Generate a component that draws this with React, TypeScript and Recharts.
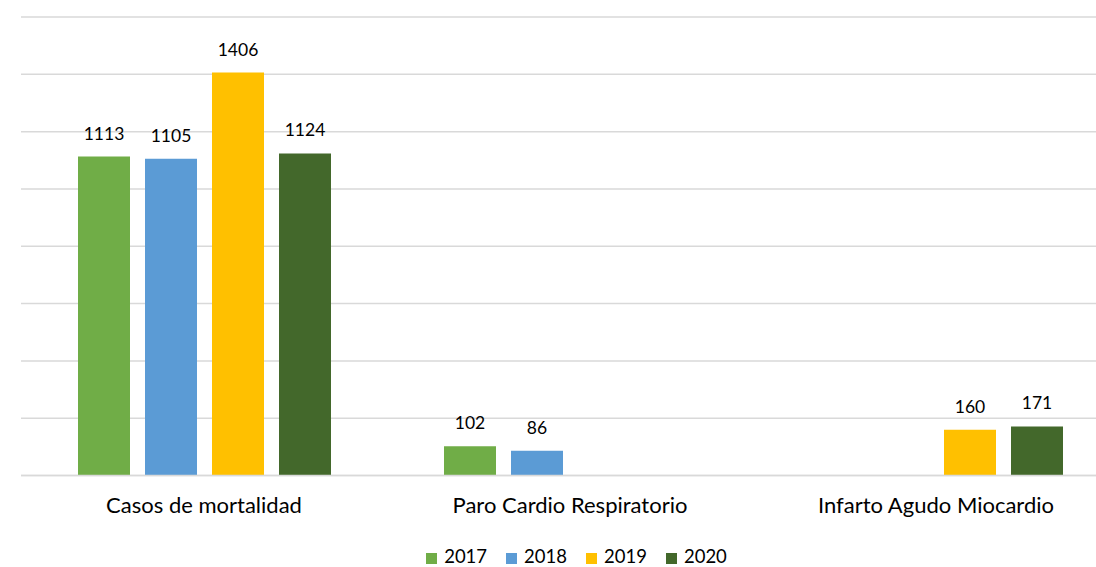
import { BarChart, Bar, XAxis, YAxis, CartesianGrid, Legend, LabelList } from "recharts"

const categories = ["Casos de mortalidad", "Paro Cardio Respiratorio", "Infarto Agudo Miocardio"]
const values2017 = [1113, 102, null]
const values2018 = [1105, 86, null]
const values2019 = [1406, null, 160]
const values2020 = [1124, null, 171]
const yTicks = [0, 200, 400, 600, 800, 1000, 1200, 1400, 1600]

const series = [
  { key: "y2017", name: "2017", color: "#70AD47" },
  { key: "y2018", name: "2018", color: "#5B9BD5" },
  { key: "y2019", name: "2019", color: "#FFC000" },
  { key: "y2020", name: "2020", color: "#43682B" },
]

const chartData = categories.map((name, i) => ({
  name,
  y2017: values2017[i],
  y2018: values2018[i],
  y2019: values2019[i],
  y2020: values2020[i],
}))

const font = "Lato, 'Open Sans', sans-serif"

export default function App() {
  return (
    <div style={{ position: "fixed", left: 0, top: 0, width: 1096, height: 567, overflow: "hidden", background: "#fff" }}>
      <BarChart
        width={1140}
        height={567}
        data={chartData}
        margin={{ top: 17, right: 21, left: 21, bottom: 0 }}
        barSize={52}
        barGap={15}
        style={{ fontFamily: font }}
      >
        <CartesianGrid vertical={false} stroke="#D9D9D9" strokeWidth={1.5} />
        <YAxis hide domain={[0, 1600]} ticks={yTicks} />
        <XAxis
          dataKey="name"
          axisLine={{ stroke: "#D9D9D9", strokeWidth: 1.5 }}
          tickLine={false}
          tickSize={0}
          tickMargin={22}
          height={69.5}
          tick={{ fill: "#000", fontSize: 22, fontFamily: font }}
        />
        <Legend
          verticalAlign="bottom"
          align="center"
          iconType="square"
          iconSize={11}
          wrapperStyle={{ fontSize: 18.5, fontFamily: font, color: "#000", paddingLeft: 16 }}
          formatter={(value) => <span style={{ color: "#000", paddingLeft: 3, paddingRight: 9 }}>{value}</span>}
        />
        {series.map((s) => (
          <Bar key={s.key} dataKey={s.key} name={s.name} fill={s.color} isAnimationActive={false}>
            <LabelList dataKey={s.key} position="top" offset={17} fill="#000" fontSize={17.5} fontFamily={font} />
          </Bar>
        ))}
      </BarChart>
    </div>
  )
}
